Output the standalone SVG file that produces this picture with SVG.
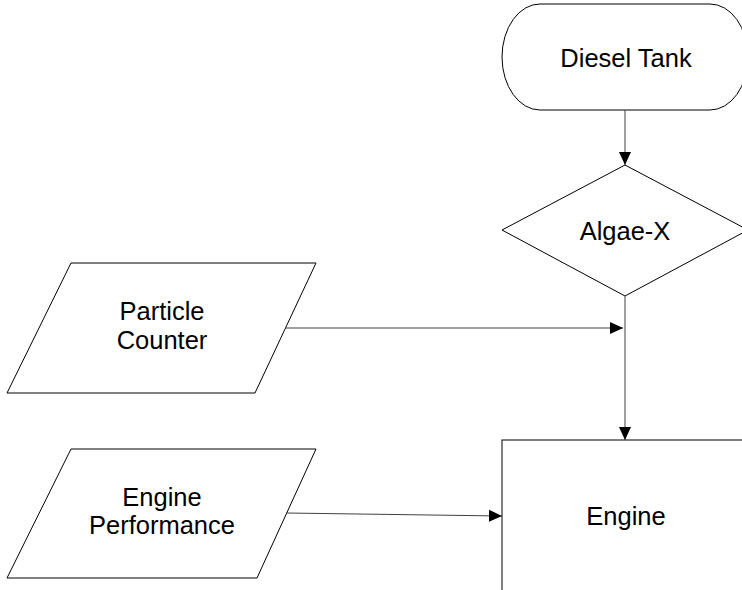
<svg xmlns="http://www.w3.org/2000/svg" width="742" height="590" viewBox="0 0 742 590">
<style>
.shape{fill:#fff;stroke:#000;stroke-width:1}
.lbl{font-family:"Liberation Sans",Arial,sans-serif;font-size:25.5px;fill:#000;text-anchor:middle}
.conn{stroke:#404040;stroke-width:1;fill:none}
</style>
<defs>
<marker id="arr" markerUnits="userSpaceOnUse" markerWidth="14" markerHeight="14" viewBox="0 0 14 14" refX="13" refY="7" orient="auto">
<path d="M0,1 L13,7 L0,13 Z" fill="#000"/>
</marker>
</defs>
<rect width="742" height="590" fill="#fff"/>
<g id="diesel-tank">
<rect class="shape" x="502" y="4" width="246" height="106" rx="38" ry="53"/>
<text class="lbl" x="626" y="67">Diesel Tank</text>
</g>
<g id="algae-x">
<polygon class="shape" points="625,165 748,230 625,296 502,230"/>
<text class="lbl" x="625" y="240">Algae-X</text>
</g>
<g id="particle-counter">
<polygon class="shape" points="71,263 316,263 255,393 7,393"/>
<text class="lbl" x="162" y="320">Particle</text>
<text class="lbl" x="162" y="349">Counter</text>
</g>
<g id="engine-performance">
<polygon class="shape" points="71,449 316,449 257,578 7,578"/>
<text class="lbl" x="162" y="506">Engine</text>
<text class="lbl" x="162" y="534">Performance</text>
</g>
<g id="engine">
<rect class="shape" x="502" y="440" width="246" height="170"/>
<text class="lbl" x="626" y="525">Engine</text>
</g>
<g id="connectors">
<line class="conn" x1="625" y1="110" x2="625" y2="165" marker-end="url(#arr)"/>
<line class="conn" x1="625" y1="296" x2="625" y2="440" marker-end="url(#arr)"/>
<line class="conn" x1="286" y1="328" x2="623" y2="328" marker-end="url(#arr)"/>
<line class="conn" x1="286" y1="513" x2="502" y2="516" marker-end="url(#arr)"/>
</g>
</svg>
